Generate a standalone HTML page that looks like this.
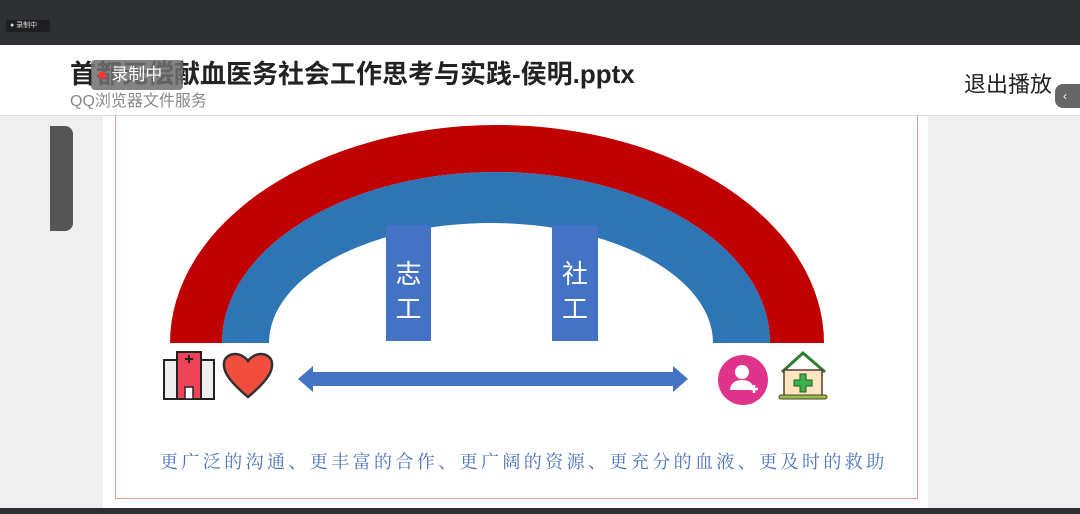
<!DOCTYPE html>
<html><head><meta charset="utf-8"><style>
html,body{margin:0;padding:0;width:1080px;height:514px;overflow:hidden;background:#efefef;font-family:"Liberation Sans","Noto Sans CJK SC",sans-serif}
.abs{position:absolute}
</style></head><body>
<div class="abs" style="left:0;top:0;width:1080px;height:45px;background:#2e3033"></div>
<div class="abs" style="left:6px;top:20px;width:40px;height:12px;background:#1e1f21;border-radius:2px;color:#ddd;font-size:7px;line-height:12px;padding-left:4px">● 录制中</div>
<div class="abs" style="left:0;top:45px;width:1080px;height:70px;background:#fff;border-bottom:1px solid #ddd"></div>
<div class="abs" style="left:70px;top:54px;font-size:26px;font-weight:bold;color:#222;white-space:nowrap">首都无偿献血医务社会工作思考与实践-侯明.pptx</div>
<div class="abs" style="left:91px;top:60px;width:92px;height:30px;background:rgba(110,110,110,0.85);border-radius:4px;color:#fff;font-size:17px;line-height:30px;white-space:nowrap"><span style="color:#f33;margin:0 4px 0 6px">●</span>录制中</div>
<div class="abs" style="left:70px;top:87px;font-size:16px;color:#888;white-space:nowrap">QQ浏览器文件服务</div>
<div class="abs" style="left:964px;top:67px;font-size:22px;color:#222;white-space:nowrap">退出播放</div>
<div class="abs" style="left:1055px;top:84px;width:30px;height:24px;background:#666;border-radius:8px 0 0 8px;color:#fff;font-size:12px;line-height:24px;padding-left:8px">‹</div>
<div class="abs" style="left:50px;top:126px;width:23px;height:105px;background:#555;border-radius:0 8px 8px 0"></div>
<div class="abs" style="left:103px;top:116px;width:825px;height:392px;background:#fff"></div>
<div class="abs" style="left:115px;top:115px;width:801px;height:383px;border:1px solid #e39a9a;border-top:none"></div>
<svg class="abs" style="left:0;top:0" width="1080" height="514">
<path d="M170,343 A327,218 0 0 1 824,343 L770,343 A274,171 0 0 0 222,343 Z" fill="#c00000"/>
<path d="M222,343 A274,171 0 0 1 770,343 L713,343 A222,120 0 0 0 269,343 Z" fill="#2e75b6"/>
<rect x="386" y="225" width="45" height="116" fill="#4472c4"/>
<rect x="552" y="225" width="46" height="116" fill="#4472c4"/>
<text x="408.5" y="283" font-size="26" fill="#fff" text-anchor="middle" font-family="Noto Sans CJK SC">志</text>
<text x="408.5" y="318" font-size="26" fill="#fff" text-anchor="middle" font-family="Noto Sans CJK SC">工</text>
<text x="575" y="283" font-size="26" fill="#fff" text-anchor="middle" font-family="Noto Sans CJK SC">社</text>
<text x="575" y="318" font-size="26" fill="#fff" text-anchor="middle" font-family="Noto Sans CJK SC">工</text>
<path d="M298,379 L313,366 L313,372 L673,372 L673,366 L688,379 L673,392 L673,386 L313,386 L313,392 Z" fill="#4472c4"/>
<rect x="164" y="360" width="14" height="39" fill="#eee" stroke="#222" stroke-width="2"/>
<rect x="200" y="360" width="14" height="39" fill="#eee" stroke="#222" stroke-width="2"/>
<rect x="177" y="352" width="24" height="47" fill="#f0435a" stroke="#222" stroke-width="2"/>
<path d="M189,355 v8 M185,359 h8" stroke="#222" stroke-width="2"/>
<rect x="185" y="387" width="8" height="12" fill="#fff" stroke="#222" stroke-width="1.5"/>
<path d="M248,397 C230,382 223,372 224,363 C225,353 240,350 248,361 C256,350 271,353 272,363 C273,372 266,382 248,397 Z" fill="#f24e3e" stroke="#333" stroke-width="2.5"/>
<circle cx="743" cy="380" r="25" fill="#e0338c"/>
<circle cx="742" cy="372" r="7" fill="#fff"/>
<path d="M730,390 q1,-10 12,-10 q11,0 12,10 z" fill="#fff"/>
<path d="M754,385 v8 M750,389 h8" stroke="#fff" stroke-width="2.5"/>
<path d="M782,372 L803,353 L825,372" fill="none" stroke="#2e7d32" stroke-width="3"/>
<rect x="784" y="370" width="38" height="26" fill="#fde6bf" stroke="#5a3a2a" stroke-width="1.5"/>
<path d="M800,374 h6 v6 h6 v6 h-6 v6 h-6 v-6 h-6 v-6 h6 z" fill="#3cb34a" stroke="#1b5e20" stroke-width="1"/>
<rect x="779" y="395" width="48" height="4" rx="2" fill="#8bc34a" stroke="#5a3a2a" stroke-width="1"/>
</svg>
<div class="abs" style="left:160px;top:448px;font-size:18px;letter-spacing:3.4px;color:#4a72c0;white-space:nowrap;font-family:'Noto Serif CJK SC','Liberation Serif',serif">更广泛的沟通、更丰富的合作、更广阔的资源、更充分的血液、更及时的救助</div>
<div class="abs" style="left:0;top:508px;width:1080px;height:6px;background:#2e3033"></div>
</body></html>
